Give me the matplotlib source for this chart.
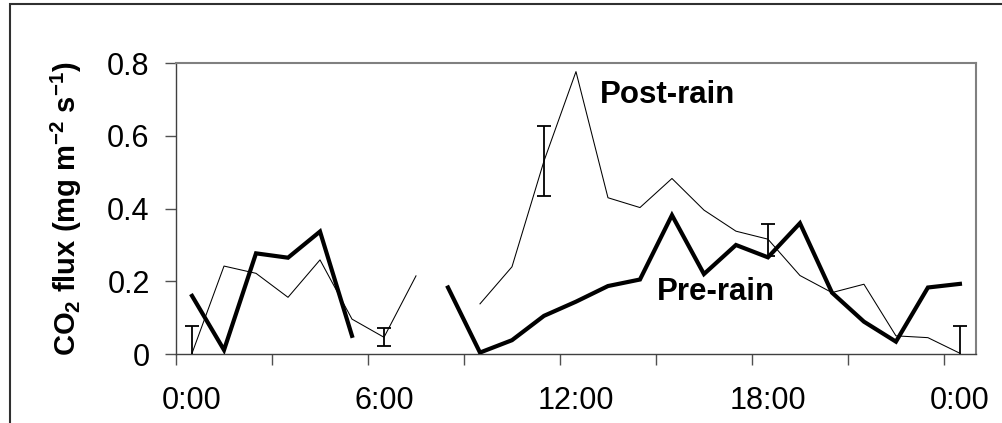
import matplotlib
matplotlib.use("Agg")
import matplotlib.pyplot as plt
from matplotlib.patches import Rectangle
import numpy as np

plt.rcParams["font.family"] = ["Liberation Sans", "DejaVu Sans"]
plt.rcParams["mathtext.fontset"] = "custom"
plt.rcParams["mathtext.rm"] = "Liberation Sans"
plt.rcParams["mathtext.bf"] = "Liberation Sans:bold"

# hourly CO2 flux, hour 0 .. 24 (None = no measurement)
hours = list(range(25))
pre_rain = [0.160, 0.011, 0.277, 0.265, 0.337, 0.050, None, None, 0.183,
            0.004, 0.038, 0.105, 0.144, 0.187, 0.205, 0.382, 0.220, 0.300,
            0.266, 0.360, 0.169, 0.089, 0.034, 0.183, 0.193]
post_rain = [0.002, 0.242, 0.222, 0.156, 0.259, 0.096, 0.046, 0.215, None,
             0.138, 0.240, 0.531, 0.777, 0.430, 0.403, 0.483, 0.396, 0.338,
             0.316, 0.216, 0.169, 0.192, 0.050, 0.045, 0.002]

# error bars
err_hours = [0, 6, 11, 18, 24]
err_mid = [0.0, 0.047, 0.531, 0.314, 0.0]
err_half = [0.077, 0.025, 0.096, 0.044, 0.077]

tick_hours = [0, 6, 12, 18, 24]
tick_labels = ["0:00", "6:00", "12:00", "18:00", "0:00"]


def to_array(values):
    return np.array([np.nan if v is None else v for v in values], dtype=float)


fig = plt.figure(figsize=(10.03, 4.23), dpi=100)
ax = fig.add_axes([0.1755, 0.1631, 0.7975, 0.6873])

ax.plot(hours, to_array(post_rain), color="black", lw=0.75, zorder=3)
ax.plot(hours, to_array(pre_rain), color="black", lw=3.0,
        solid_joinstyle="miter", zorder=4)
ax.errorbar(err_hours, err_mid, yerr=err_half, fmt="none", ecolor="black",
            elinewidth=1.3, capsize=5, capthick=1.3, zorder=5)

ax.set_xlim(-0.5, 24.5)
ax.set_ylim(0, 0.8)

ax.set_xticks(tick_hours)
ax.set_xticklabels(tick_labels, fontsize=22)
ax.set_xticks(np.arange(-0.5, 24, 3), minor=True)
ax.tick_params(axis="x", which="major", length=0, pad=23)
ax.tick_params(axis="x", which="minor", length=8, width=1, color="#505050",
               direction="out")

ax.set_yticks([0, 0.2, 0.4, 0.6, 0.8])
ax.set_yticklabels(["0", "0.2", "0.4", "0.6", "0.8"], fontsize=22)
ax.tick_params(axis="y", length=8, width=1, color="#505050", direction="out",
               pad=11)

for side in ["left", "bottom"]:
    ax.spines[side].set_color("#404040")
    ax.spines[side].set_linewidth(1.0)
for side in ["top", "right"]:
    ax.spines[side].set_color("#808080")
    ax.spines[side].set_linewidth(1.5)

ax.set_ylabel(r"CO$_\mathbf{2}$ flux (mg m$^{\mathbf{-2}}$ s$^{\mathbf{-1}}$)",
              fontsize=21, fontweight="bold")
ax.yaxis.label.set_va("center")
ax.yaxis.set_label_coords(-0.1375, 0.5)

ax.text(12.75, 0.714, "Post-rain", fontsize=22.5, fontweight="bold",
        ha="left", va="center")
ax.text(14.53, 0.172, "Pre-rain", fontsize=22.5, fontweight="bold",
        ha="left", va="center")

# outer chart border
fig.patches.append(Rectangle((10 / 1003, -0.1), 1.2, 1.1 - 4 / 423,
                             transform=fig.transFigure, fill=False,
                             edgecolor="#303030", lw=1.5))

fig.savefig("out.png", dpi=100)
